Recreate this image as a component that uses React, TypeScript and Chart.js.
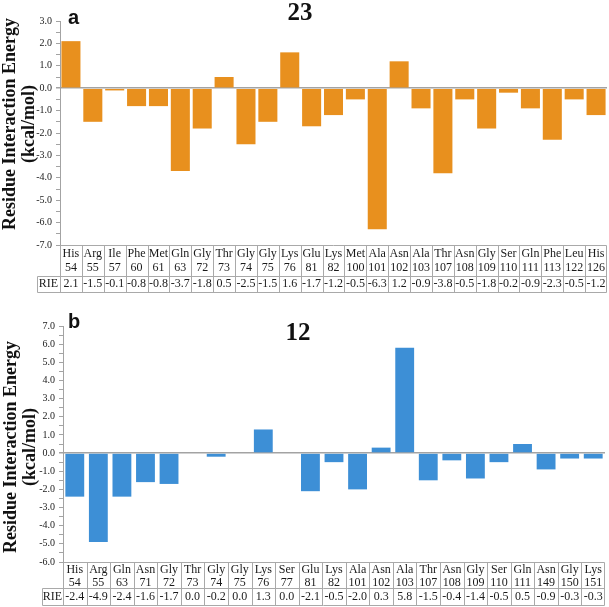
import { useEffect, useRef } from 'react';
import { Chart, registerables } from 'chart.js';

Chart.register(...registerables);

// Panel a (compound 23)
const residuesA = ['His 54', 'Arg 55', 'Ile 57', 'Phe 60', 'Met 61', 'Gln 63', 'Gly 72', 'Thr 73', 'Gly 74', 'Gly 75', 'Lys 76', 'Glu 81', 'Lys 82', 'Met 100', 'Ala 101', 'Asn 102', 'Ala 103', 'Thr 107', 'Asn 108', 'Gly 109', 'Ser 110', 'Gln 111', 'Phe 113', 'Leu 122', 'His 126'];
const valuesA = [2.1, -1.5, -0.1, -0.8, -0.8, -3.7, -1.8, 0.5, -2.5, -1.5, 1.6, -1.7, -1.2, -0.5, -6.3, 1.2, -0.9, -3.8, -0.5, -1.8, -0.2, -0.9, -2.3, -0.5, -1.2];
const yRangeA = [-7, 3];

// Panel b (compound 12)
const residuesB = ['His 54', 'Arg 55', 'Gln 63', 'Asn 71', 'Gly 72', 'Thr 73', 'Gly 74', 'Gly 75', 'Lys 76', 'Ser 77', 'Glu 81', 'Lys 82', 'Ala 101', 'Asn 102', 'Ala 103', 'Thr 107', 'Asn 108', 'Gly 109', 'Ser 110', 'Gln 111', 'Asn 149', 'Gly 150', 'Lys 151'];
const valuesB = [-2.4, -4.9, -2.4, -1.6, -1.7, 0.04, -0.2, 0.0, 1.3, 0.04, -2.1, -0.5, -2.0, 0.3, 5.8, -1.5, -0.4, -1.4, -0.5, 0.5, -0.9, -0.3, -0.3];
const yRangeB = [-6, 7];

const yTitleLines = ['Residue Interaction Energy', '(kcal/mol)'];
const rowLabel = 'RIE';

type PanelCfg = {
  labels: string[];
  values: number[];
  range: number[];
  color: string;
  letter: string;
  title: string;
  width: number;
  height: number;
  axisWidth: number;
  pad: { left: number; right: number; top: number; bottom: number };
  barPct: number;
  letterY: number;
  titleX: number;
  titleY: number;
  yTitleY: number;
  yTitleX: number[];
  rowY: { nameY: number; numY: number; sep: number; rieY: number; bottom: number; rieLeft: number };
};

function makePlugin(cfg: PanelCfg) {
  return {
    id: 'rieTable',
    afterDraw(chart: any) {
      const ctx = chart.ctx as CanvasRenderingContext2D;
      const xs = chart.scales.x;
      const area = chart.chartArea;
      const n = cfg.labels.length;
      const step = n > 1 ? xs.getPixelForValue(1) - xs.getPixelForValue(0) : area.right - area.left;
      const r = cfg.rowY;
      ctx.save();
      // table lines
      ctx.strokeStyle = '#a9a9a9';
      ctx.lineWidth = 1;
      const top = Math.round(area.bottom) + 0.5;
      const sep = r.sep + 0.5;
      const bot = r.bottom + 0.5;
      const left = Math.round(area.left) + 0.5;
      const right = Math.round(xs.getPixelForValue(n - 1) + step / 2) - 0.5;
      ctx.beginPath();
      ctx.moveTo(left, top); ctx.lineTo(right, top);
      ctx.moveTo(r.rieLeft + 0.5, sep); ctx.lineTo(right, sep);
      ctx.moveTo(r.rieLeft + 0.5, bot); ctx.lineTo(right, bot);
      ctx.moveTo(r.rieLeft + 0.5, sep); ctx.lineTo(r.rieLeft + 0.5, bot);
      for (let i = 0; i <= n; i++) {
        const bx = i === n ? right : Math.round(xs.getPixelForValue(i) - step / 2) + 0.5;
        ctx.moveTo(bx, top); ctx.lineTo(bx, bot);
      }
      ctx.stroke();
      // table text
      ctx.fillStyle = '#1a1a1a';
      ctx.font = '12px "Liberation Serif", "Times New Roman", serif';
      ctx.textAlign = 'center';
      ctx.textBaseline = 'middle';
      cfg.labels.forEach((lab, i) => {
        const cx = xs.getPixelForValue(i);
        const [name, num] = lab.split(' ');
        ctx.fillText(name, cx, r.nameY);
        ctx.fillText(num, cx, r.numY);
        ctx.fillText(cfg.values[i].toFixed(1), cx, r.rieY);
      });
      ctx.fillText(rowLabel, (r.rieLeft + area.left) / 2, r.rieY);
      // panel letter
      ctx.textAlign = 'left';
      ctx.textBaseline = 'alphabetic';
      ctx.font = 'bold 20px "Liberation Sans", Arial, sans-serif';
      ctx.fillStyle = '#111';
      ctx.fillText(cfg.letter, 68, cfg.letterY);
      // compound title
      ctx.textAlign = 'center';
      ctx.font = 'bold 25px "Liberation Serif", "Times New Roman", serif';
      ctx.fillText(cfg.title, cfg.titleX, cfg.titleY);
      // y-axis title
      ctx.font = 'bold 18px "Liberation Serif", "Times New Roman", serif';
      ctx.textBaseline = 'middle';
      yTitleLines.forEach((line, k) => {
        ctx.save();
        ctx.translate(cfg.yTitleX[k], cfg.yTitleY);
        ctx.rotate(-Math.PI / 2);
        ctx.fillText(line, 0, 0);
        ctx.restore();
      });
      ctx.restore();
    },
  };
}

function Panel({ cfg }: { cfg: PanelCfg }) {
  const ref = useRef<HTMLCanvasElement | null>(null);
  useEffect(() => {
    if (!ref.current) return;
    const chart = new Chart(ref.current, {
      type: 'bar',
      data: {
        labels: cfg.labels,
        datasets: [
          {
            data: cfg.values,
            backgroundColor: cfg.color,
            borderWidth: 0,
            barPercentage: cfg.barPct,
            categoryPercentage: 1,
          },
        ],
      },
      options: {
        responsive: false,
        animation: false,
        devicePixelRatio: 1,
        layout: { padding: cfg.pad },
        plugins: { legend: { display: false }, tooltip: { enabled: false }, title: { display: false } },
        scales: {
          x: { display: false, grid: { display: false } },
          y: {
            min: cfg.range[0],
            max: cfg.range[1],
            afterFit: (scale: any) => {
              scale.width = cfg.axisWidth;
            },
            ticks: {
              stepSize: 0.5,
              autoSkip: false,
              padding: 4,
              color: '#1a1a1a',
              font: { family: '"Liberation Serif", "Times New Roman", serif', size: 10 },
              callback: (v: any) => (Number.isInteger(Number(v)) ? Number(v).toFixed(1) : ''),
            },
            grid: {
              drawOnChartArea: true,
              color: (c: any) => (c.tick && c.tick.value === 0 ? '#a3a3a3' : 'rgba(0,0,0,0)'),
              lineWidth: (c: any) => (c.tick && c.tick.value === 0 ? 1.5 : 1),
              tickColor: '#a3a3a3',
              tickLength: 4,
            },
            border: { display: true, color: '#a3a3a3', width: 1 },
          },
        },
      },
      plugins: [makePlugin(cfg)],
    } as any);
    return () => chart.destroy();
  }, [cfg]);
  return <canvas ref={ref} width={cfg.width} height={cfg.height} style={{ display: 'block', width: cfg.width, height: cfg.height }} />;
}

const cfgA: PanelCfg = {
  labels: residuesA,
  values: valuesA,
  range: yRangeA,
  color: '#E8901E',
  letter: 'a',
  title: '23',
  width: 609,
  height: 300,
  axisWidth: 60,
  pad: { left: 0, right: 2, top: 21, bottom: 55 },
  barPct: 0.87,
  letterY: 24,
  titleX: 300,
  titleY: 20,
  yTitleY: 124,
  yTitleX: [10, 29],
  rowY: { nameY: 254, numY: 268, sep: 276, rieY: 284, bottom: 292, rieLeft: 37 },
};

const cfgB: PanelCfg = {
  labels: residuesB,
  values: valuesB,
  range: yRangeB,
  color: '#3D8FD6',
  letter: 'b',
  title: '12',
  width: 609,
  height: 307,
  axisWidth: 63,
  pad: { left: 0, right: 4, top: 26, bottom: 45 },
  barPct: 0.8,
  letterY: 28,
  titleX: 298,
  titleY: 40,
  yTitleY: 147,
  yTitleX: [11, 30],
  rowY: { nameY: 270, numY: 283, sep: 288, rieY: 297, bottom: 305, rieLeft: 42 },
};

export default function App() {
  return (
    <div style={{ position: 'absolute', left: 0, top: 0, width: 609, height: 607, background: '#fff' }}>
      <Panel cfg={cfgA} />
      <Panel cfg={cfgB} />
    </div>
  );
}
